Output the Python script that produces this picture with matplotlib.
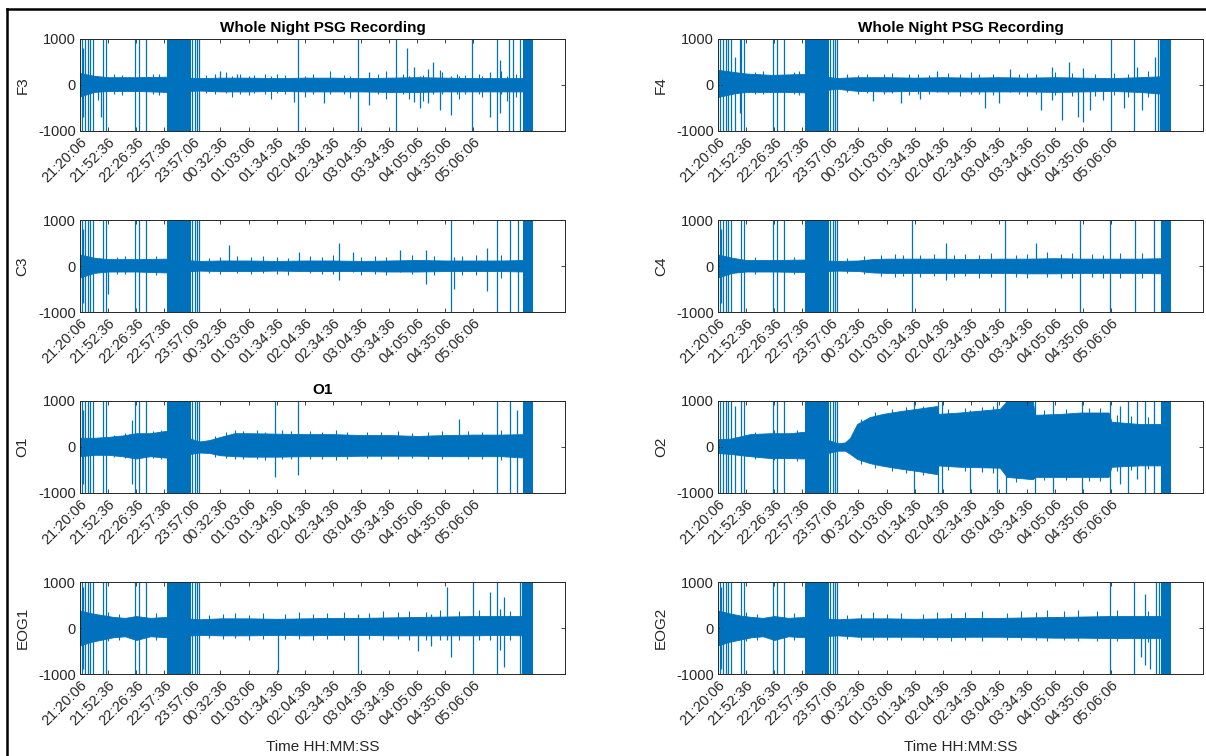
import matplotlib
matplotlib.use("Agg")
import matplotlib.pyplot as plt
from matplotlib.lines import Line2D

plt.rcParams['font.family'] = ['Liberation Sans', 'DejaVu Sans']

BLUE = '#0072BD'
AX_COLOR = '#262626'

# x axis is in tick units (tick k -> k-th time label)
TIME_LABELS = ['21:20:06', '21:52:36', '22:26:36', '22:57:36', '23:57:06',
               '00:32:36', '01:03:06', '01:34:36', '02:04:36', '02:34:36',
               '03:04:36', '03:34:36', '04:05:06', '04:35:06', '05:06:06']
X_MAX = 17.26
Y_TICKS = [-1000, 0, 1000]

# saturated artefact blocks shared by all channels (start, end)
BLOCKS = [(3.10, 3.95), (15.78, 16.12)]
# full-range artefact lines shared by all channels
SHARED_FULL = [0.08, 0.17, 0.27, 0.36, 0.45, 0.82, 0.92, 1.95, 2.1, 2.35,
               4.0, 4.08, 4.18, 4.23]

# ---- F3 ----
F3_ENV_X = [0, 0.5, 1.0, 2.0, 3.05, 4.25, 5, 6, 7, 8, 9, 10, 11, 12, 13, 14, 15, 15.8]
F3_HI = [260, 200, 170, 170, 180, 150, 160, 160, 150, 160, 160, 150, 160, 170, 160, 150, 150, 150]
F3_LO = [-250, -150, -130, -130, -150, -120, -140, -140, -130, -140, -140, -140, -150, -150, -140, -140, -140, -140]
F3_SPIKES = [(0.12, -700, 800), (0.64, -330, 150), (0.75, -700, 150), (5.0, -100, 300),
             (5.6, -100, 250), (7.6, -370, 100), (7.76, -1000, 1000), (8.7, -400, 100),
             (9.9, -1000, 1000), (10.3, -430, 280), (11.25, -1000, 1000), (11.64, -100, 800),
             (11.9, -370, 390), (12.1, -500, 200), (12.4, -400, 350), (12.55, -200, 500),
             (12.8, -550, 330), (13.2, -650, 200), (13.95, -1000, 1000), (14.6, -700, 280),
             (14.84, -1000, 1000), (14.95, -600, 540), (15.27, -1000, 1000), (15.4, -1000, 1000),
             (15.66, -1000, 1000)]
F3_EDGE = [(1.2, -200, 230), (1.5, -220, 210), (2.6, -190, 230), (2.8, -210, 250),
           (4.5, -180, 210), (4.8, -200, 240), (5.2, -180, 280), (5.4, -250, 200),
           (5.7, -190, 250), (6.0, -220, 200), (6.2, -180, 220), (6.6, -190, 250),
           (6.8, -300, 200), (7.0, -180, 230), (7.3, -200, 210), (8.0, -250, 200),
           (8.3, -190, 250), (8.9, -200, 300), (9.4, -190, 220), (9.6, -280, 200),
           (10.6, -200, 250), (10.9, -300, 300), (11.5, -200, 240), (11.7, -300, 200),
           (12.2, -350, 220), (12.9, -200, 280), (13.4, -200, 250), (13.5, -300, 200),
           (13.7, -190, 220), (14.2, -200, 250), (14.3, -260, 200), (15.0, -200, 300),
           (15.2, -350, 200), (15.5, -250, 250)]

# ---- F4 ----
F4_ENV_X = [0, 0.6, 1.0, 1.9, 2.5, 3.05, 4.25, 4.5, 5, 6, 7, 8, 9, 10, 11, 12, 13, 14, 15, 15.8]
F4_HI = [330, 280, 250, 220, 230, 240, 150, 160, 170, 170, 160, 170, 160, 170, 160, 170, 160, 150, 170, 190]
F4_LO = [-260, -180, -150, -150, -150, -160, -80, -100, -130, -140, -130, -140, -140, -140, -140, -150, -140, -130, -150, -190]
F4_SPIKES = [(0.6, -1000, 600), (0.78, -600, 1000), (5.5, -350, 150), (6.5, -400, 150),
             (7.2, -300, 150), (7.8, -150, 300), (9.5, -500, 150), (10.0, -400, 150),
             (10.4, -150, 350), (11.5, -550, 150), (11.9, -330, 400), (12.25, -760, 150),
             (12.5, -150, 500), (12.8, -700, 150), (13.0, -800, 370), (13.25, -540, 150),
             (13.7, -330, 150), (13.97, -1000, 1000), (14.45, -500, 150), (14.8, -1000, 1000),
             (14.9, -150, 400), (15.1, -540, 150), (15.55, -1000, 600), (15.65, -1000, 1000),
             (15.72, -1000, 1000)]
F4_EDGE = [(1.3, -200, 280), (1.6, -190, 300), (2.7, -200, 290), (2.9, -210, 300),
           (4.6, -150, 230), (5.0, -190, 220), (5.3, -180, 250), (5.9, -200, 230),
           (6.2, -180, 260), (6.8, -220, 230), (7.1, -190, 240), (7.5, -200, 220),
           (8.2, -190, 260), (8.6, -230, 230), (9.0, -200, 280), (9.3, -190, 230),
           (9.8, -210, 250), (10.7, -200, 230), (11.0, -230, 260), (11.3, -200, 240),
           (12.0, -220, 280), (12.6, -240, 260), (13.4, -230, 250), (14.1, -210, 270),
           (14.6, -250, 240), (15.3, -260, 300)]

# ---- C3 ----
C3_ENV_X = [0, 0.5, 1.0, 2.0, 3.05, 4.25, 5, 6, 7, 8, 9, 10, 11, 12, 13, 14, 15, 15.8]
C3_HI = [250, 180, 150, 150, 160, 110, 120, 120, 110, 120, 120, 110, 120, 130, 120, 120, 120, 130]
C3_LO = [-250, -150, -120, -120, -140, -100, -110, -110, -100, -110, -110, -110, -120, -120, -110, -110, -110, -120]
C3_SPIKES = [(0.12, -800, 800), (1.0, -600, 150), (5.3, -100, 450), (7.8, -100, 300),
             (9.2, -300, 500), (9.7, -120, 300), (11.4, -120, 350), (12.3, -400, 350),
             (13.2, -1000, 1000), (13.3, -500, 200), (14.5, -550, 400), (14.85, -1000, 1000),
             (15.3, -1000, 1000), (15.6, -1000, 1000)]
C3_EDGE = [(1.3, -180, 200), (1.6, -170, 220), (2.7, -190, 210), (4.6, -150, 180),
           (5.0, -170, 200), (5.6, -160, 220), (6.1, -180, 190), (6.5, -150, 210),
           (7.0, -170, 200), (7.4, -190, 180), (8.2, -160, 220), (8.6, -180, 200),
           (9.0, -170, 230), (10.0, -190, 200), (10.5, -170, 220), (10.9, -200, 190),
           (11.8, -180, 230), (12.6, -200, 210), (13.6, -190, 220), (14.1, -200, 230),
           (15.0, -250, 250)]

# ---- C4 ----
C4_ENV_X = [0, 0.5, 1.0, 2.0, 3.05, 4.25, 5, 5.5, 6, 7, 8, 9, 10, 11, 12, 13, 14, 15, 15.8]
C4_HI = [250, 180, 130, 130, 140, 110, 120, 150, 160, 160, 160, 150, 160, 160, 170, 160, 160, 160, 170]
C4_LO = [-250, -150, -120, -120, -130, -100, -110, -140, -150, -150, -150, -150, -150, -160, -160, -150, -150, -150, -160]
C4_SPIKES = [(0.12, -800, 800), (6.9, -1000, 1000), (8.1, -300, 500), (10.2, -1000, 1000),
             (11.3, -150, 500), (12.9, -1000, 1000), (13.95, -1000, 1000), (14.85, -1000, 1000),
             (15.5, -1000, 1000)]
C4_EDGE = [(1.3, -170, 200), (2.7, -180, 200), (4.6, -150, 170), (5.2, -180, 220),
           (5.8, -220, 250), (6.3, -230, 260), (6.6, -210, 230), (7.2, -240, 250),
           (7.7, -220, 270), (8.4, -240, 240), (8.8, -220, 260), (9.3, -250, 250),
           (9.7, -230, 280), (10.6, -240, 250), (11.0, -260, 260), (11.7, -240, 300),
           (12.2, -260, 260), (12.6, -250, 280), (13.3, -240, 270), (13.7, -260, 250),
           (14.3, -250, 280), (15.1, -270, 280)]

# ---- O1 ----
O1_ENV_X = [0, 0.5, 1, 1.5, 2.0, 2.5, 3.05, 4.25, 4.6, 5, 5.5, 6, 7, 8, 9, 10, 11, 12, 13, 14, 15, 15.8]
O1_HI = [200, 200, 220, 250, 300, 300, 350, 120, 150, 220, 300, 300, 290, 280, 280, 260, 260, 240, 260, 270, 270, 280]
O1_LO = [-200, -170, -170, -200, -250, -200, -230, -120, -130, -180, -200, -210, -210, -200, -200, -190, -190, -190, -200, -200, -200, -230]
O1_SPIKES = [(0.12, -800, 800), (1.85, -800, 590), (6.94, -650, 1000), (7.76, -600, 1000),
             (13.5, -200, 600), (14.85, -1000, 1000), (15.3, -1000, 1000), (15.55, -1000, 800)]
O1_EDGE = [(1.2, -220, 260), (1.6, -230, 300), (2.6, -240, 340), (2.9, -250, 370),
           (4.8, -220, 250), (5.2, -240, 330), (5.5, -260, 370), (5.8, -250, 350),
           (6.3, -260, 360), (6.6, -280, 330), (7.2, -260, 380), (7.5, -250, 340),
           (8.2, -270, 350), (8.6, -250, 330), (9.1, -280, 360), (9.5, -250, 320),
           (10.2, -240, 330), (10.7, -260, 320), (11.3, -250, 350), (11.8, -240, 310),
           (12.4, -260, 330), (12.9, -250, 340), (13.8, -260, 350), (14.3, -250, 330),
           (15.0, -280, 360)]

# ---- O2 ----
O2_ENV_X = [0, 0.43, 1.14, 1.85, 2.56, 3.05, 4.27, 4.52, 4.7, 4.95, 5.4, 5.87, 6.48, 7.08,
            7.79, 7.84, 8.6, 10.03, 10.28, 11.2, 11.28, 12.2, 12.9, 13.9, 14.0, 15.0, 15.8]
O2_HI = [170, 180, 280, 300, 300, 330, 80, 100, 200, 500, 650, 720, 780, 830,
         890, 720, 750, 830, 1000, 1000, 700, 720, 750, 750, 550, 500, 500]
O2_LO = [-130, -150, -200, -240, -240, -250, -80, -80, -150, -260, -350, -410, -470, -520,
         -590, -400, -430, -450, -650, -700, -650, -650, -650, -650, -430, -400, -400]
O2_SPIKES = [(0.6, -1000, 900), (6.96, -1000, 1000), (7.83, -1000, 1000), (7.98, -1000, 1000),
             (8.98, -1000, 800), (9.94, -1000, 1000), (10.26, -1000, 1000), (11.27, -1000, 1000),
             (11.92, -1000, 1000), (12.95, -1000, 1000), (13.95, -1000, 1000), (14.3, -800, 900),
             (14.6, -1000, 1000), (14.9, -700, 1000), (15.2, -1000, 1000), (15.5, -1000, 1000)]
O2_EDGE = [(1.3, -260, 330), (2.0, -290, 370), (2.8, -300, 380), (5.1, -380, 600),
           (5.6, -450, 760), (6.2, -520, 830), (6.7, -560, 860), (7.3, -600, 900),
           (8.2, -500, 820), (8.8, -520, 850), (9.4, -540, 880), (9.8, -560, 900),
           (10.6, -750, 1000), (11.6, -720, 800), (12.4, -720, 820), (13.2, -730, 850),
           (13.6, -740, 840), (14.2, -520, 700), (14.7, -500, 680), (15.3, -480, 650)]

# ---- EOG1 ----
EOG1_ENV_X = [0, 0.4, 0.8, 1.2, 1.6, 2.0, 2.5, 3.05, 4.25, 5, 6, 7, 8, 9, 10, 11, 12, 13, 14, 15, 15.8]
EOG1_HI = [380, 320, 280, 240, 220, 260, 220, 240, 190, 210, 210, 200, 210, 220, 220, 230, 240, 250, 260, 260, 260]
EOG1_LO = [-380, -300, -250, -200, -180, -260, -180, -200, -150, -160, -160, -150, -160, -150, -150, -160, -160, -160, -160, -150, -160]
EOG1_SPIKES = [(0.12, -900, 900), (7.05, -960, 200), (9.9, -1000, 300), (12.03, -500, 250),
               (12.5, -400, 300), (13.05, -250, 890), (13.2, -630, 250), (13.98, -1000, 1000),
               (14.6, -250, 780), (14.84, -1000, 1000), (14.95, -480, 410), (15.1, -850, 670),
               (15.66, -1000, 1000), (15.73, -1000, 1000)]
EOG1_EDGE = [(1.0, -280, 350), (1.4, -260, 300), (2.7, -250, 330), (4.6, -220, 280),
             (5.1, -240, 300), (5.5, -220, 330), (6.0, -250, 290), (6.5, -230, 320),
             (7.3, -240, 300), (7.8, -230, 340), (8.3, -250, 310), (8.8, -240, 330),
             (9.4, -260, 350), (10.3, -240, 320), (10.8, -250, 360), (11.3, -240, 340),
             (11.7, -260, 380), (12.3, -250, 350), (12.8, -260, 400), (13.5, -250, 370),
             (14.2, -260, 390), (15.3, -260, 380)]

# ---- EOG2 ----
EOG2_ENV_X = [0, 0.4, 0.8, 1.2, 1.6, 2.0, 2.5, 3.05, 4.25, 5, 6, 7, 8, 9, 10, 11, 12, 13, 14, 15, 15.8]
EOG2_HI = [380, 320, 270, 240, 220, 260, 220, 240, 190, 210, 210, 200, 210, 220, 220, 230, 240, 250, 260, 260, 260]
EOG2_LO = [-380, -300, -250, -200, -180, -260, -180, -200, -160, -190, -190, -190, -200, -190, -190, -200, -210, -210, -220, -220, -220]
EOG2_SPIKES = [(0.12, -900, 900), (13.95, -1000, 1000), (14.8, -1000, 1000), (15.05, -630, 250),
               (15.2, -800, 750), (15.37, -900, 250), (15.6, -1000, 1000), (15.7, -1000, 1000)]
EOG2_EDGE = [(1.0, -280, 340), (1.4, -260, 300), (2.7, -250, 320), (4.6, -240, 280),
             (5.1, -260, 310), (5.5, -250, 340), (6.0, -270, 300), (6.5, -250, 330),
             (7.3, -260, 310), (7.8, -250, 350), (8.3, -280, 320), (8.8, -260, 340),
             (9.4, -280, 360), (10.3, -260, 330), (10.8, -270, 370), (11.3, -260, 350),
             (11.7, -280, 390), (12.3, -270, 360), (12.8, -290, 400), (13.5, -280, 380),
             (14.2, -290, 400), (15.3, -300, 380)]

CHANNELS = [
    ('F3', F3_ENV_X, F3_HI, F3_LO, F3_SPIKES, F3_EDGE, 0, 0),
    ('F4', F4_ENV_X, F4_HI, F4_LO, F4_SPIKES, F4_EDGE, 0, 1),
    ('C3', C3_ENV_X, C3_HI, C3_LO, C3_SPIKES, C3_EDGE, 1, 0),
    ('C4', C4_ENV_X, C4_HI, C4_LO, C4_SPIKES, C4_EDGE, 1, 1),
    ('O1', O1_ENV_X, O1_HI, O1_LO, O1_SPIKES, O1_EDGE, 2, 0),
    ('O2', O2_ENV_X, O2_HI, O2_LO, O2_SPIKES, O2_EDGE, 2, 1),
    ('EOG1', EOG1_ENV_X, EOG1_HI, EOG1_LO, EOG1_SPIKES, EOG1_EDGE, 3, 0),
    ('EOG2', EOG2_ENV_X, EOG2_HI, EOG2_LO, EOG2_SPIKES, EOG2_EDGE, 3, 1),
]

W, H = 1206, 756
fig = plt.figure(figsize=(W / 100, H / 100), dpi=100)

col_left = [80, 718]
row_top = [39, 220, 401, 582]
ax_w, ax_h = 485, 92


def draw_channel(ax, env_x, hi, lo, spikes, edge):
    ax.fill_between(env_x, lo, hi, color=BLUE, lw=0.6, edgecolor=BLUE)
    for x0, x1 in BLOCKS:
        ax.fill_between([x0, x1], [-1000, -1000], [1000, 1000], color=BLUE, lw=0)
    ax.vlines(SHARED_FULL, -1000, 1000, color=BLUE, lw=0.9)
    ax.vlines([s[0] for s in spikes], [s[1] for s in spikes], [s[2] for s in spikes],
              color=BLUE, lw=0.9)
    ax.vlines([e[0] for e in edge], [e[1] for e in edge], [e[2] for e in edge],
              color=BLUE, lw=0.8)


for name, env_x, hi, lo, spikes, edge, r, c in CHANNELS:
    left = col_left[c] / W
    bottom = 1 - (row_top[r] + ax_h) / H
    ax = fig.add_axes([left, bottom, ax_w / W, ax_h / H])
    draw_channel(ax, env_x, hi, lo, spikes, edge)
    ax.set_xlim(0, X_MAX)
    ax.set_ylim(-1000, 1000)
    ax.set_yticks(Y_TICKS)
    ax.set_yticklabels([str(v) for v in Y_TICKS])
    ax.set_xticks(range(len(TIME_LABELS)))
    ax.set_xticklabels(TIME_LABELS, rotation=45, ha='right', va='top',
                       rotation_mode='anchor')
    ax.tick_params(direction='in', length=2.8, width=0.6, colors=AX_COLOR,
                   labelsize=10.5, top=True, right=True, pad=3)
    for sp in ax.spines.values():
        sp.set_color(AX_COLOR)
        sp.set_linewidth(0.7)
    ax.set_ylabel(name, fontsize=11, color=AX_COLOR, labelpad=6)
    if r == 0:
        ax.set_title('Whole Night PSG Recording', fontsize=11, fontweight='bold', pad=5)
    if name == 'O1':
        ax.set_title('O1', fontsize=11, fontweight='bold', pad=5)
    if r == 3:
        ax.set_xlabel('Time HH:MM:SS', fontsize=11, color=AX_COLOR, labelpad=8)

# black frame of the screenshot
fig.add_artist(Line2D([6.5 / W, 6.5 / W], [0, 1 - 9 / H], color='black', lw=1.8))
fig.add_artist(Line2D([6.5 / W, 1], [1 - 9 / H, 1 - 9 / H], color='black', lw=1.8))

fig.savefig('out.png', dpi=100)
